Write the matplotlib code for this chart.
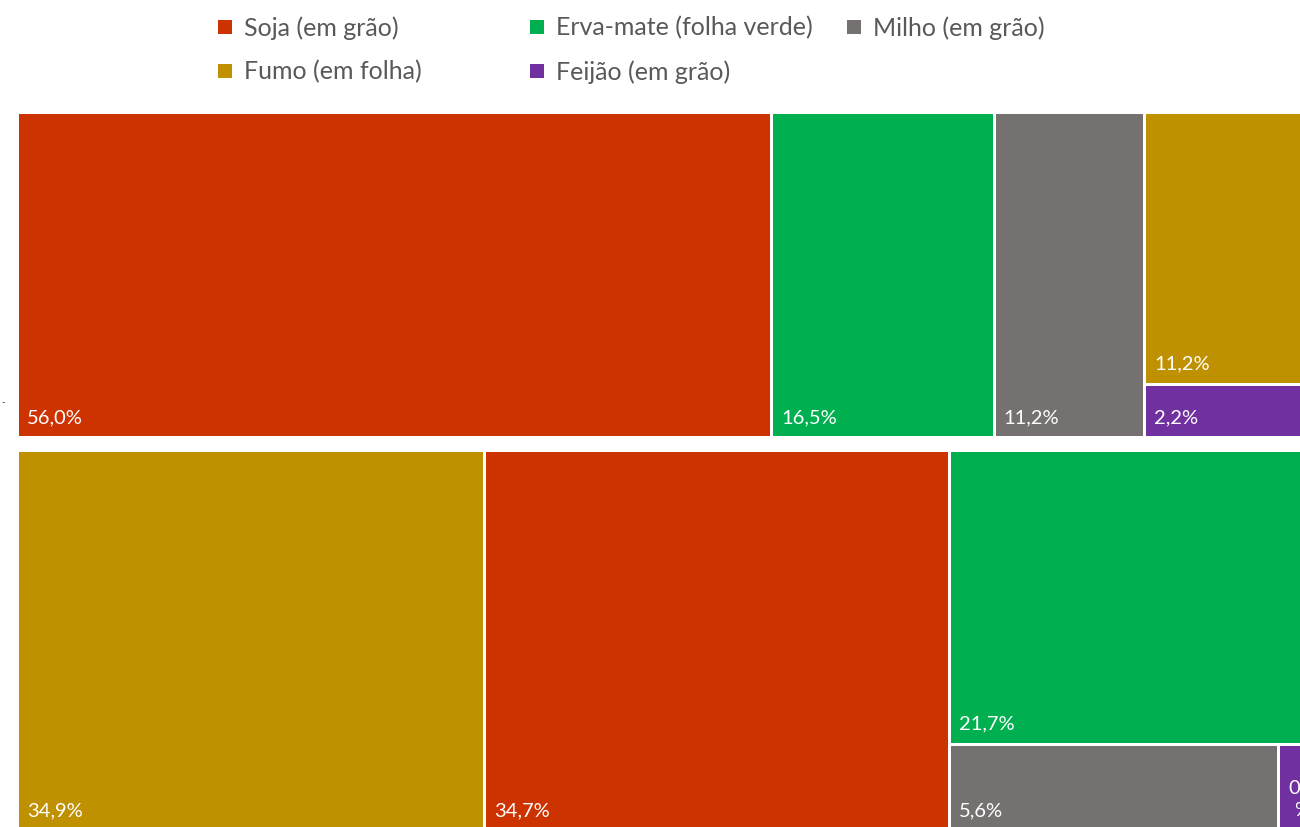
import matplotlib
matplotlib.use("Agg")
import matplotlib.pyplot as plt
from matplotlib.patches import Rectangle

# ---------------- data ----------------
categories = ["Soja (em grão)", "Erva-mate (folha verde)", "Milho (em grão)",
              "Fumo (em folha)", "Feijão (em grão)"]
category_colors = ["#CC3300", "#00B050", "#767171", "#BF9000", "#7030A0"]

top_items = ["Soja (em grão)", "Erva-mate (folha verde)", "Milho (em grão)",
             "Fumo (em folha)", "Feijão (em grão)"]
top_values = [56.0, 16.5, 11.2, 11.2, 2.2]

bottom_items = ["Fumo (em folha)", "Soja (em grão)", "Erva-mate (folha verde)",
                "Milho (em grão)", "Feijão (em grão)"]
bottom_values = [34.9, 34.7, 21.7, 5.6, 0.8]

# slice structure of the treemap (indices into each group's items)
top_structure = [0, 1, 2, [3, 4]]
bottom_structure = [0, 1, [2, [3, 4]]]

color_of = dict(zip(categories, category_colors))

# ---------------- figure ----------------
W, H = 1300, 827
fig = plt.figure(figsize=(13, 8.27), dpi=100)
ax = fig.add_axes([0, 0, 1, 1])
ax.set_xlim(0, W)
ax.set_ylim(H, 0)
ax.axis("off")

FONT = ["Lato", "DejaVu Sans"]
GAP = 1.5


def total(node, values):
    if isinstance(node, list):
        return sum(total(n, values) for n in node)
    return values[node]


def layout(node, values, x, y, w, h, horizontal, out):
    if not isinstance(node, list):
        out.append((node, x, y, w, h))
        return
    s = sum(total(n, values) for n in node)
    pos = 0.0
    for n in node:
        frac = total(n, values) / s
        if horizontal:
            layout(n, values, x + pos * w, y, frac * w, h, not horizontal, out)
        else:
            layout(n, values, x, y + pos * h, w, frac * h, not horizontal, out)
        pos += frac


def fmt(v):
    return f"{v:.1f}".replace(".", ",") + "%"


groups = [
    (top_items, top_values, top_structure, (17.5, 112.5, 1308, 325)),
    (bottom_items, bottom_values, bottom_structure, (17.5, 450.5, 1308, 380.5)),
]

for items, values, structure, (gx, gy, gw, gh) in groups:
    rects = []
    layout(structure, values, gx, gy, gw, gh, True, rects)
    for idx, x, y, w, h in rects:
        ax.add_patch(Rectangle((x + GAP, y + GAP), w - 2 * GAP, h - 2 * GAP,
                               facecolor=color_of[items[idx]], edgecolor="none"))
        label = fmt(values[idx])
        if w < 60:
            label = label[:-1] + "\n%"
        ax.text(x + GAP + 8, y + h - GAP - 13, label, color="white",
                fontsize=14.5, family=FONT, ha="left", va="baseline",
                multialignment="center", linespacing=1.45)

# small mark at left edge
ax.text(1, 403, "-", color="#404040", fontsize=7, family=FONT,
        ha="left", va="center")

# ---------------- legend ----------------
legend_order = [[0, 1, 2], [3, 4]]
legend_cols = [218, 530, 847]
legend_rows = [27, 71]
for r, row in enumerate(legend_order):
    for c, ci in enumerate(row):
        lx = legend_cols[c]
        ly = legend_rows[r]
        ax.add_patch(Rectangle((lx, ly - 7), 14, 14,
                               facecolor=category_colors[ci], edgecolor="none"))
        ax.text(lx + 26, ly + 1, categories[ci], color="#595959", fontsize=18,
                family=FONT, ha="left", va="center")

fig.savefig("out.png", dpi=100)
